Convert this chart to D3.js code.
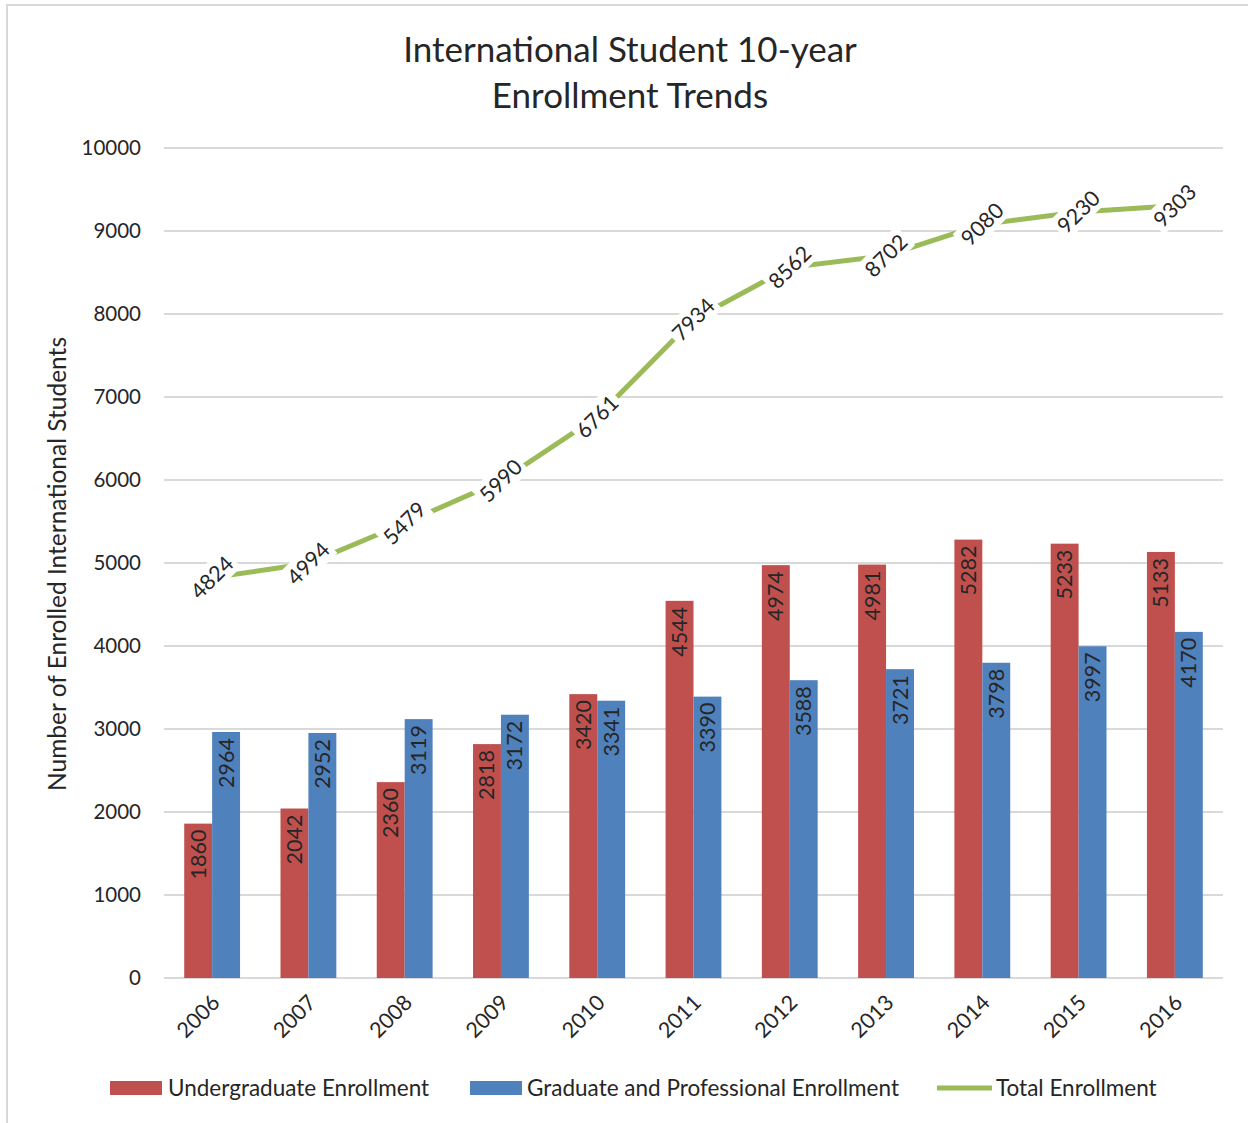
<!DOCTYPE html>
<html><head><meta charset="utf-8">
<script src="https://cdn.jsdelivr.net/npm/d3@7"></script>
<style>body{margin:0;background:#fff}svg{display:block}text{font-family:Lato,"Open Sans",sans-serif;fill:#262626}</style>
</head><body><svg id="c" width="1248" height="1123"></svg>
<script>
const years = ["2006","2007","2008","2009","2010","2011","2012","2013","2014","2015","2016"];
const undergrad = [1860,2042,2360,2818,3420,4544,4974,4981,5282,5233,5133];
const graduate = [2964,2952,3119,3172,3341,3390,3588,3721,3798,3997,4170];
const total = [4824,4994,5479,5990,6761,7934,8562,8702,9080,9230,9303];
const yTicks = [0,1000,2000,3000,4000,5000,6000,7000,8000,9000,10000];
const seriesNames = ["Undergraduate Enrollment","Graduate and Professional Enrollment","Total Enrollment"];
const colors = ["#C0504D","#4F81BD","#9BBB59"];

const svg = d3.select("#c");
svg.append("rect").attr("x",7).attr("y",5).attr("width",1260).attr("height",1130).attr("fill","#fff").attr("stroke","#d9d9d9").attr("stroke-width",2);

const L=164,R=1223,T=148,B=978;
const x = d3.scaleBand().domain(years).range([L,R]).paddingInner(0.42).paddingOuter(0.21);
const x1 = d3.scaleBand().domain([0,1]).range([0,x.bandwidth()]);
const y = d3.scaleLinear().domain([0,10000]).range([B,T]);

// title
const title = svg.append("text").attr("text-anchor","middle").attr("font-size",35);
title.append("tspan").attr("x",630).attr("y",62).text("International Student 10-year");
title.append("tspan").attr("x",630).attr("y",108).text("Enrollment Trends");

// grid
svg.append("g").selectAll("line").data(yTicks).join("line")
  .attr("x1",L).attr("x2",R).attr("y1",d=>y(d)).attr("y2",d=>y(d))
  .attr("stroke","#d9d9d9").attr("stroke-width",2);

// y labels
svg.append("g").selectAll("text").data(yTicks).join("text")
  .attr("x",141).attr("y",d=>y(d)+7).attr("text-anchor","end").attr("font-size",20.5).text(d=>d);

svg.append("text").attr("transform","translate(66,564) rotate(-90)").attr("text-anchor","middle").attr("font-size",24.5)
  .text("Number of Enrolled International Students");

// bars
const groups=[undergrad,graduate];
groups.forEach((arr,k)=>{
  const g=svg.append("g");
  g.selectAll("rect").data(arr).join("rect")
    .attr("x",(d,i)=>x(years[i])+x1(k)).attr("width",x1.bandwidth())
    .attr("y",d=>y(d)).attr("height",d=>B-y(d)).attr("fill",colors[k]);
  g.selectAll("text").data(arr).join("text")
    .attr("transform",(d,i)=>`translate(${x(years[i])+x1(k)+x1.bandwidth()/2+7.5},${y(d)+6}) rotate(-90)`)
    .attr("text-anchor","end").attr("font-size",21.5).text(d=>d);
});

// line
const cx = i => x(years[i])+x.bandwidth()/2;
svg.append("path").datum(total)
  .attr("d",d3.line().x((d,i)=>cx(i)).y(d=>y(d)))
  .attr("fill","none").attr("stroke",colors[2]).attr("stroke-width",5);
const lg = svg.append("g").selectAll("g").data(total).join("g")
  .attr("transform",(d,i)=>`translate(${cx(i)},${y(d)}) rotate(-45)`);
lg.append("rect").attr("x",-28).attr("y",-14).attr("width",56).attr("height",27).attr("fill","#fff");
lg.append("text").attr("text-anchor","middle").attr("y",7.5).attr("font-size",21.5).text(d=>d);

// x labels
svg.append("g").selectAll("text").data(years).join("text")
  .attr("transform",d=>`translate(${x(d)+x.bandwidth()/2+9},${1004}) rotate(-45)`)
  .attr("text-anchor","end").attr("font-size",21.5).text(d=>d);

// legend
const leg=[{x:110,t:168},{x:470,t:527},{x:937,t:996}];
leg.forEach((p,k)=>{
  if(k<2) svg.append("rect").attr("x",p.x).attr("y",1081).attr("width",52).attr("height",14).attr("fill",colors[k]);
  else svg.append("line").attr("x1",p.x).attr("x2",p.x+55).attr("y1",1088).attr("y2",1088).attr("stroke",colors[k]).attr("stroke-width",5);
  svg.append("text").attr("x",p.t).attr("y",1096).attr("font-size",22.5).text(seriesNames[k]);
});
</script></body></html>
